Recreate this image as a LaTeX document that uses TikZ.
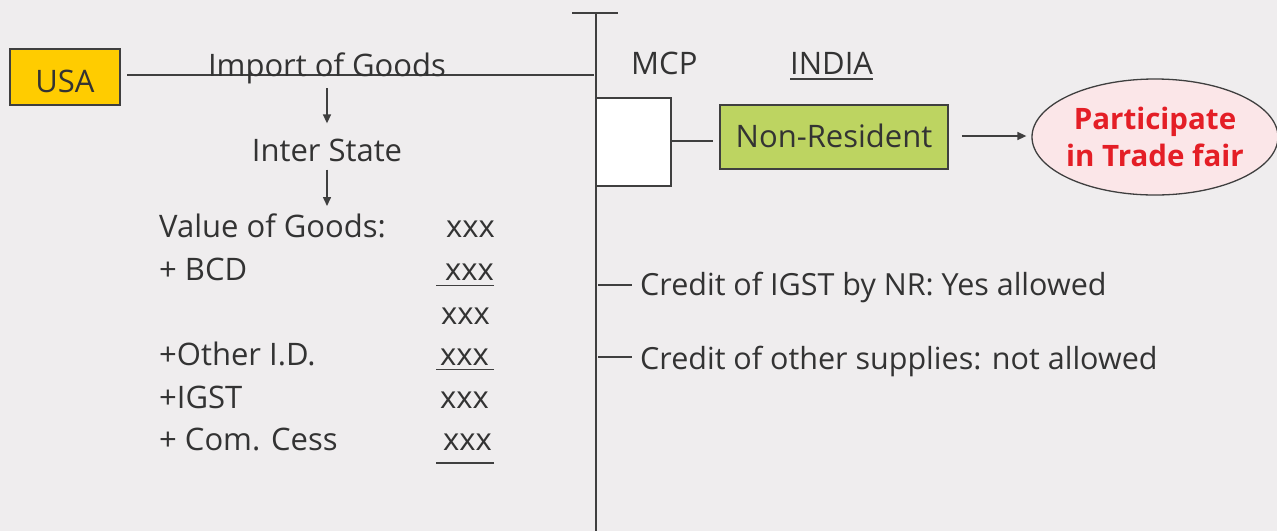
\documentclass[tikz,border=0pt]{standalone}
\usepackage{fontspec}
\setmainfont{Open Sans}
\usetikzlibrary{arrows.meta,shapes.geometric,calc}

\definecolor{bgc}{HTML}{EFEDEE}
\definecolor{linec}{HTML}{3F3F3F}
\definecolor{textc}{HTML}{333333}
\definecolor{goldc}{HTML}{FFCC00}
\definecolor{greenc}{HTML}{BDD461}
\definecolor{pinkc}{HTML}{FBE6E8}
\definecolor{redc}{HTML}{E41E26}

\begin{document}
\begin{tikzpicture}[x=1pt,y=-1pt,
  stroke/.style={draw=linec,line width=1.5pt},
  thinstroke/.style={draw=linec,line width=1.3pt},
  arr/.style={stroke,-{Triangle[length=9pt,width=8pt]}},
  lbl/.style={text=textc,inner sep=0pt,font=\fontsize{31}{36}\selectfont},
  sidelbl/.style={text=textc,inner sep=0pt,font=\fontsize{30.5}{36}\selectfont},
  boxed/.style={draw=linec,line width=1.5pt,inner sep=0pt,text=textc,
    font=\fontsize{31}{36}\selectfont}]

% canvas
\fill[bgc] (0,0) rectangle (1277,531);
\useasboundingbox (0,0) rectangle (1277,531);

% border axis between the two countries
\coordinate (axTop) at (596,13);
\coordinate (axBot) at (596,531);
\coordinate (tkL) at (572,13);
\coordinate (tkR) at (618,13);
\draw[stroke] (axTop) -- (axBot);
\draw[stroke] (tkL) -- (tkR);

% USA side
\node[boxed,fill=goldc,minimum width=110pt,minimum height=56pt,
      text height=30pt,text depth=0pt] (usa) at (65,77) {USA};
\coordinate (impStart) at (127,75);
\coordinate (impEnd) at (594,75);
\draw[stroke] (impStart) -- (impEnd);
\node[lbl,anchor=base] (imp) at (327,76) {Import of Goods};
\node[lbl,anchor=base] (inter) at (327,161) {Inter State};
\coordinate (listTop) at (327,206);
\draw[arr] ([yshift=-4.5pt]imp.south) -- ([yshift=15pt]inter.north);
\draw[arr] ([yshift=-8pt]inter.south) -- (listTop);

% valuation list
\node[lbl,anchor=base west] (l1) at (159,237.7) {Value of Goods:};
\node[lbl,anchor=base west] (l2) at (159,280.7) {+ BCD};
\node[lbl,anchor=base west] (l4) at (159,365.7) {+Other I.D.};
\node[lbl,anchor=base west] (l5) at (159,408) {+IGST};
\node[lbl,anchor=base west] (l6) at (159,450) {+ Com. Cess};

\node[lbl,anchor=base east] (v1) at (495,237.7) {xxx};
\node[lbl,anchor=base east] (v2) at (494,280.7) {xxx};
\node[lbl,anchor=base east] (v3) at (490,324) {xxx};
\node[lbl,anchor=base east] (v4) at (489,365.7) {xxx};
\node[lbl,anchor=base east] (v5) at (489,408) {xxx};
\node[lbl,anchor=base east] (v6) at (492,450) {xxx};

\draw[thinstroke] ($(v2.base east)+(0,4.5)$) -- ++(-58,0);
\draw[thinstroke] ($(v4.base east)+(5,3.5)$) -- ++(-58,0);
\draw[thinstroke] ($(v6.base east)+(2,13)$) -- ++(-58,0);

% INDIA side
\node[lbl,anchor=base west] (mcp) at (631,74) {MCP};
\node[lbl,anchor=base west] (india) at (790,74) {INDIA};
\draw[stroke] ($(india.base west)+(0,5)$) -- ($(india.base east)+(0,5)$);

\node[draw=linec,line width=1.5pt,fill=white,minimum width=75pt,
      minimum height=88pt,inner sep=0pt] (wbox) at (633.5,142) {};
\node[boxed,fill=greenc,minimum width=228pt,minimum height=64pt,
      text height=20pt,text depth=0pt] (nr) at (834,137) {Non-Resident};
\draw[stroke] ($(wbox.east)+(0,-1)$) -- ($(wbox.east -| nr.west)+(-6,-1)$);

\node[ellipse,draw=linec,line width=1.3pt,fill=pinkc,minimum width=246pt,
      minimum height=116pt,inner xsep=-6pt,inner ysep=0pt,align=center,
      text=redc,font=\bfseries\fontsize{29.5}{37}\selectfont] (fair) at (1155,137)
      {Participate\\in Trade fair};
\draw[arr] ($(nr.east)+(13,-1)$) -- ($(fair.west)+(-5,-1)$);

% credit remarks
\node[sidelbl,anchor=base west] (c1) at (640,295.7) {Credit of IGST by NR: Yes allowed};
\node[sidelbl,anchor=base west] (c2) at (640,369) {Credit of other supplies: not allowed};
\draw[stroke] ($(c1.base west -| axTop)+(2,-10.7)$) -- ($(c1.base west)+(-8,-10.7)$);
\draw[stroke] ($(c2.base west -| axTop)+(2,-12)$) -- ($(c2.base west)+(-8,-12)$);

\end{tikzpicture}
\end{document}
